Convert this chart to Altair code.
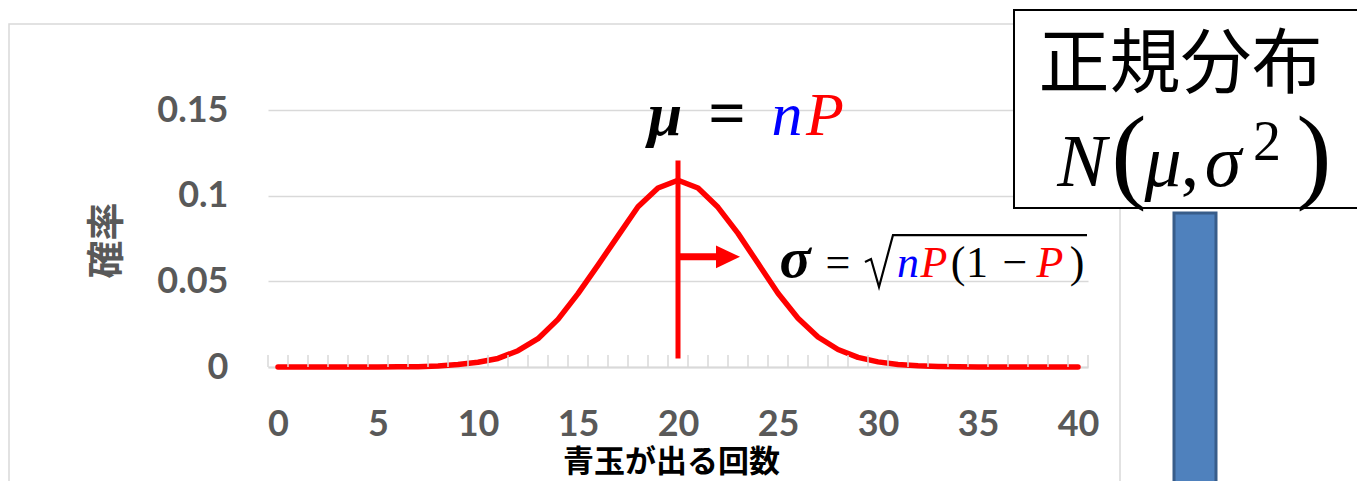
import altair as alt
import pandas as pd

# ---------------- data ----------------
counts = list(range(41))
probs = [0.0, 0.0, 0.0, 0.0, 0.0, 0.0, 0.0001, 0.0002, 0.0006, 0.0014,
         0.0028, 0.0050, 0.0095, 0.0165, 0.0278, 0.0428, 0.0595, 0.0765,
         0.0935, 0.1045, 0.1090, 0.1045, 0.0932, 0.0780, 0.0605, 0.0430,
         0.0285, 0.0175, 0.0102, 0.0056, 0.0030, 0.0015, 0.0007, 0.0003,
         0.0001, 0.0, 0.0, 0.0, 0.0, 0.0, 0.0]
x_tick_labels = [0, 5, 10, 15, 20, 25, 30, 35, 40]
y_tick_labels = [0, 0.05, 0.1, 0.15]
x_title = "青玉が出る回数"
y_title = "確率"
box_title = "正規分布"

# ---------------- annotations (data coordinates) ----------------
ann = [
    # text, x, y, size, color, kind
    ("μ", 19.35, 0.1354, 62, "#000000", "bi"),
    ("=", 22.45, 0.1354, 66, "#000000", "bd"),
    ("n", 25.45, 0.1354, 62, "#0000FF", "it"),
    ("P", 27.35, 0.1354, 62, "#FF0000", "it"),
    ("σ", 25.85, 0.0525, 58, "#000000", "bi"),
    ("=", 28.0, 0.0525, 44, "#000000", "rg"),
    ("n", 31.5, 0.0525, 44, "#0000FF", "it"),
    ("P", 32.8, 0.0525, 44, "#FF0000", "it"),
    ("(", 34.0, 0.0525, 44, "#000000", "rg"),
    ("1", 34.95, 0.0525, 44, "#000000", "rg"),
    ("−", 36.85, 0.0525, 44, "#000000", "rg"),
    ("P", 38.6, 0.0525, 44, "#FF0000", "it"),
    (")", 39.95, 0.0525, 44, "#000000", "rg"),
    ("N", 40.2, 0.1057, 74, "#000000", "it"),
    ("(", 42.55, 0.1038, 106, "#000000", "rg"),
    ("μ", 44.25, 0.1057, 74, "#000000", "it"),
    (",", 45.6, 0.1057, 74, "#000000", "rg"),
    ("σ", 47.25, 0.1057, 74, "#000000", "it"),
    ("2", 49.45, 0.1210, 56, "#000000", "rg"),
    (")", 51.8, 0.1038, 106, "#000000", "rg"),
]
ann_df = pd.DataFrame(ann, columns=["text", "x", "y", "size", "color", "kind"])

W, H = 820, 257
xs = alt.Scale(domain=[-0.5, 40.5], nice=False, zero=False)
ys = alt.Scale(domain=[0, 0.15], nice=False)
RED = "#FF0000"
GRID = "#D9D9D9"

x_axis = alt.Axis(
    values=x_tick_labels, grid=False, ticks=False, domainColor=GRID,
    domainWidth=2, labelFont="Lato", labelFontSize=36, labelFontWeight="bold",
    labelColor="#595959", labelPadding=40, labelFlush=False,
    title=x_title, titleFont="Noto Sans CJK JP", titleFontSize=31,
    titleFontWeight="bold", titleColor="#000000", titleX=403, titleY=95,
    titleBaseline="middle", titleAlign="center")
y_axis = alt.Axis(
    values=y_tick_labels, format=".2~f", grid=True, gridColor=GRID,
    gridWidth=1.5, domain=False, ticks=False, labelFont="Lato",
    labelFontSize=36, labelFontWeight="bold", labelColor="#595959",
    labelPadding=40, title=y_title, titleFont="Noto Sans CJK JP",
    titleFontSize=38, titleFontWeight="bold", titleColor="#595959",
    titleAngle=270, titleX=-161, titleY=130, titleAlign="center",
    titleBaseline="middle")


def X(field):
    return alt.X(field, scale=xs, axis=x_axis)


def Y(field):
    return alt.Y(field, scale=ys, axis=y_axis)


df = pd.DataFrame({"count": counts, "prob": probs})

line = alt.Chart(df).mark_line(color=RED, strokeWidth=5.5, strokeCap="round",
                               strokeJoin="round").encode(
    x=X("count:Q"), y=Y("prob:Q"))

# inward minor ticks at every category boundary
tick_df = pd.DataFrame({"tick": [i - 0.5 for i in range(42)]})
ticks = alt.Chart(tick_df).mark_rule(color=GRID, strokeWidth=1.5).encode(
    x=X("tick:Q"), y=alt.value(H - 12), y2=alt.value(H))

# chart-area border lines
border_df = pd.DataFrame({"x": [-13.45], "x2": [42.1], "y": [-0.3], "y2": [0.2002]})
border = alt.Chart(border_df).mark_rect(fillOpacity=0, stroke=GRID, strokeWidth=1.5).encode(
    x=X("x:Q"), x2="x2", y=Y("y:Q"), y2="y2")
edge_df = pd.DataFrame({"x": [-13.85], "y": [-0.3], "y2": [0.2025]})
edge = alt.Chart(edge_df).mark_rule(color=GRID, strokeWidth=1.5).encode(
    x=X("x:Q"), y=Y("y:Q"), y2="y2")

# mean line and sigma arrow
mu_df = pd.DataFrame({"x": [20], "y": [0.005], "y2": [0.1205]})
mu_line = alt.Chart(mu_df).mark_rule(color=RED, strokeWidth=5).encode(
    x=X("x:Q"), y=Y("y:Q"), y2="y2")
shaft_df = pd.DataFrame({"x": [20], "x2": [22.1], "y": [0.0643]})
shaft = alt.Chart(shaft_df).mark_rule(color=RED, strokeWidth=7).encode(
    x=X("x:Q"), x2="x2", y=Y("y:Q"))
head_df = pd.DataFrame({"x": [22.5], "y": [0.0643]})
head = alt.Chart(head_df).mark_point(shape="M-1,-0.95L1,0L-1,0.95Z", filled=True,
                                     color=RED, opacity=1, size=576).encode(
    x=X("x:Q"), y=Y("y:Q"))

# radical sign of the sigma formula
rad_df = pd.DataFrame({"o": [0, 1, 2, 3, 4],
                       "x": [29.35, 29.65, 30.05, 30.75, 40.45],
                       "y": [0.0613, 0.0630, 0.0467, 0.0770, 0.0770]})
radical = alt.Chart(rad_df).mark_line(color="#000000", strokeWidth=2.2).encode(
    x=X("x:Q"), y=Y("y:Q"), order="o:Q")


def text_layer(kind, style, weight, data):
    return alt.Chart(data).transform_filter(alt.datum.kind == kind).mark_text(
        font="Liberation Serif", fontStyle=style, fontWeight=weight,
        align="center", baseline="alphabetic").encode(
        x=X("x:Q"), y=Y("y:Q"),
        text="text:N",
        size=alt.Size("size:Q", scale=None, legend=None),
        color=alt.Color("color:N", scale=None, legend=None))


main_ann = ann_df.iloc[:13]
box_ann = ann_df.iloc[13:]

t_main = [text_layer("it", "italic", "normal", main_ann),
          text_layer("bi", "italic", "bold", main_ann),
          text_layer("bd", "normal", "bold", main_ann),
          text_layer("rg", "normal", "normal", main_ann)]

# box "正規分布 N(μ,σ²)"
box_df = pd.DataFrame({"x": [36.8], "x2": [60], "y": [0.0928], "y2": [0.2084]})
box = alt.Chart(box_df).mark_rect(fill="#FFFFFF", stroke="#000000", strokeWidth=2).encode(
    x=X("x:Q"), x2="x2", y=Y("y:Q"), y2="y2")
t_box = [text_layer("it", "italic", "normal", box_ann),
         text_layer("rg", "normal", "normal", box_ann)]
jp_df = pd.DataFrame({"text": [box_title], "x": [45.13], "y": [0.1757]})
t_jp = alt.Chart(jp_df).mark_text(font="Noto Sans CJK JP", fontSize=71,
                                  color="#000000", align="center",
                                  baseline="middle").encode(
    x=X("x:Q"), y=Y("y:Q"), text="text:N")

# partially visible bar of the neighbouring chart
bar_df = pd.DataFrame({"x": [44.8], "x2": [46.9], "y": [-0.3], "y2": [0.0899]})
bar = alt.Chart(bar_df).mark_rect(fill="#4F81BD", stroke="#385D8A", strokeWidth=3).encode(
    x=X("x:Q"), x2="x2", y=Y("y:Q"), y2="y2")

chart = alt.layer(
    line, border, edge, ticks, mu_line, shaft, head, radical,
    *t_main, box, *t_box, t_jp, bar
).properties(
    width=W, height=H,
    padding={"left": 260, "top": 102, "right": 269, "bottom": 114},
    autosize="none",
    background="#FFFFFF",
).configure_view(strokeWidth=0)

chart.save("out.html", embed_options={"renderer": "svg", "actions": False})
